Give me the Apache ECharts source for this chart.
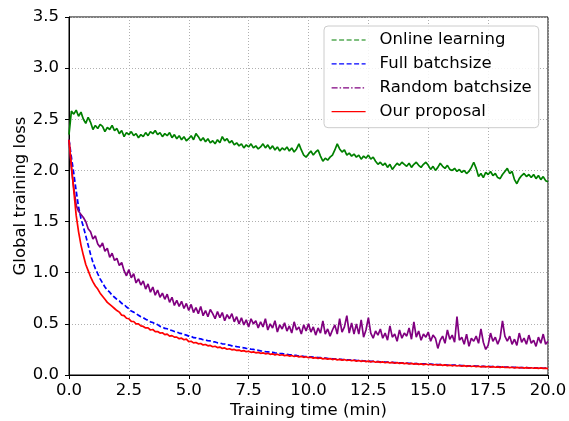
<!DOCTYPE html>
<html><head><meta charset="utf-8">
<script src="https://cdn.jsdelivr.net/npm/echarts@6/dist/echarts.min.js"></script>
<style>html,body{margin:0;padding:0;background:#fff}#c{width:569px;height:421px}</style>
</head><body><div id="c"></div>
<script>
const seriesNames = ['Online learning', 'Full batchsize', 'Random batchsize', 'Our proposal'];
const xTicks = [0, 2.5, 5, 7.5, 10, 12.5, 15, 17.5, 20];
const yTicks = [0, 0.5, 1, 1.5, 2, 2.5, 3, 3.5];
// sampling grid: every 0.1 min from 0 to 20
const times = Array.from({length: 201}, (_, i) => Math.round(i) / 10);

const onlineLoss = [
2.35,2.58,2.55,2.59,2.53,2.57,2.50,2.46,2.52,2.47,
2.40,2.44,2.41,2.45,2.43,2.38,2.42,2.40,2.44,2.39,
2.41,2.36,2.39,2.33,2.37,2.35,2.38,2.34,2.36,2.32,
2.35,2.33,2.37,2.34,2.38,2.36,2.39,2.35,2.37,2.33,
2.36,2.34,2.37,2.32,2.35,2.31,2.34,2.30,2.33,2.29,
2.31,2.34,2.30,2.36,2.33,2.29,2.32,2.28,2.31,2.27,
2.29,2.26,2.30,2.27,2.33,2.29,2.31,2.27,2.29,2.25,
2.27,2.24,2.26,2.22,2.25,2.23,2.26,2.22,2.24,2.21,
2.23,2.26,2.22,2.25,2.21,2.24,2.20,2.23,2.19,2.22,
2.20,2.23,2.19,2.22,2.18,2.21,2.26,2.20,2.15,2.13,
2.16,2.19,2.15,2.18,2.20,2.14,2.09,2.12,2.10,2.13,
2.15,2.20,2.26,2.21,2.18,2.20,2.15,2.17,2.14,2.16,
2.13,2.15,2.11,2.14,2.12,2.15,2.11,2.13,2.09,2.06,
2.08,2.05,2.07,2.03,2.06,2.01,2.04,2.07,2.05,2.08,
2.06,2.04,2.07,2.03,2.06,2.08,2.05,2.03,2.06,2.08,
2.05,2.01,2.04,2.00,2.03,2.07,2.04,2.02,2.05,2.01,
2.00,2.02,1.99,2.01,1.98,2.00,1.97,1.99,2.03,2.08,
2.02,1.94,1.97,1.93,1.98,1.96,1.99,1.95,1.97,1.93,
1.92,1.96,1.99,2.02,1.97,1.99,1.91,1.87,1.92,1.95,
1.97,1.94,1.96,1.93,1.96,1.92,1.95,1.91,1.94,1.90,
1.89];

const fullLoss = [
2.30,2.13,1.97,1.80,1.64,1.53,1.45,1.36,1.27,1.18,
1.10,1.04,0.99,0.94,0.90,0.86,0.83,0.81,0.78,0.76,
0.74,0.725,0.70,0.69,0.665,0.65,0.625,0.615,0.60,0.585,
0.57,0.56,0.545,0.535,0.52,0.513,0.50,0.493,0.475,0.47,
0.455,0.452,0.44,0.435,0.425,0.42,0.41,0.405,0.395,0.39,
0.38,0.378,0.365,0.363,0.355,0.353,0.345,0.343,0.335,0.333,
0.325,0.323,0.315,0.313,0.305,0.303,0.295,0.293,0.285,0.283,
0.277,0.274,0.268,0.266,0.26,0.258,0.252,0.25,0.244,0.242,
0.236,0.234,0.228,0.227,0.222,0.221,0.216,0.215,0.21,0.209,
0.204,0.203,0.198,0.197,0.192,0.191,0.186,0.186,0.182,0.181,
0.178,0.177,0.174,0.173,0.17,0.169,0.166,0.165,0.162,0.161,
0.158,0.157,0.155,0.154,0.152,0.151,0.149,0.148,0.146,0.145,
0.143,0.142,0.14,0.139,0.137,0.137,0.134,0.134,0.132,0.131,
0.129,0.129,0.126,0.126,0.124,0.124,0.121,0.121,0.119,0.119,
0.117,0.116,0.114,0.114,0.112,0.112,0.11,0.11,0.108,0.108,
0.106,0.106,0.104,0.104,0.102,0.102,0.1,0.1,0.098,0.098,
0.096,0.096,0.094,0.094,0.092,0.092,0.09,0.09,0.088,0.089,
0.087,0.087,0.085,0.085,0.083,0.084,0.082,0.082,0.08,0.081,
0.079,0.079,0.077,0.078,0.076,0.076,0.074,0.075,0.073,0.073,
0.072,0.072,0.07,0.071,0.069,0.069,0.068,0.068,0.066,0.067,
0.065];

const randomLoss = [
2.30,2.02,1.83,1.66,1.60,1.57,1.54,1.50,1.43,1.40,
1.33,1.36,1.28,1.25,1.29,1.21,1.24,1.15,1.19,1.12,
1.14,1.07,1.10,1.02,0.97,1.03,0.95,0.99,0.90,0.94,
0.88,0.92,0.84,0.89,0.81,0.86,0.78,0.83,0.76,0.80,
0.74,0.79,0.71,0.76,0.68,0.73,0.67,0.72,0.65,0.70,
0.63,0.69,0.61,0.66,0.60,0.67,0.58,0.63,0.57,0.64,
0.60,0.55,0.62,0.56,0.61,0.53,0.59,0.55,0.60,0.52,
0.57,0.50,0.56,0.49,0.54,0.47,0.55,0.50,0.53,0.46,
0.52,0.47,0.55,0.44,0.50,0.46,0.53,0.42,0.49,0.45,
0.51,0.43,0.48,0.41,0.52,0.44,0.47,0.40,0.49,0.43,
0.50,0.42,0.47,0.39,0.46,0.41,0.53,0.40,0.45,0.38,
0.44,0.49,0.40,0.55,0.42,0.47,0.58,0.41,0.51,0.40,
0.50,0.40,0.54,0.37,0.44,0.56,0.41,0.36,0.43,0.39,
0.45,0.36,0.41,0.34,0.48,0.37,0.40,0.33,0.44,0.36,
0.41,0.38,0.46,0.35,0.52,0.37,0.43,0.34,0.40,0.37,
0.42,0.33,0.39,0.36,0.26,0.34,0.38,0.31,0.44,0.35,
0.39,0.32,0.57,0.34,0.37,0.30,0.40,0.28,0.36,0.33,
0.38,0.31,0.45,0.32,0.25,0.29,0.41,0.33,0.37,0.30,
0.36,0.53,0.38,0.33,0.38,0.30,0.35,0.29,0.41,0.32,
0.36,0.30,0.39,0.31,0.34,0.28,0.37,0.31,0.40,0.30,
0.33];

const proposalLoss = [
2.30,2.05,1.80,1.56,1.40,1.27,1.17,1.08,1.02,0.96,
0.91,0.87,0.84,0.80,0.77,0.74,0.71,0.69,0.67,0.65,
0.63,0.615,0.585,0.58,0.555,0.55,0.525,0.523,0.50,0.50,
0.48,0.475,0.46,0.46,0.44,0.445,0.425,0.425,0.41,0.413,
0.395,0.40,0.38,0.385,0.37,0.37,0.355,0.36,0.345,0.35,
0.327,0.33,0.314,0.318,0.305,0.308,0.294,0.298,0.285,0.289,
0.276,0.281,0.268,0.273,0.26,0.265,0.252,0.257,0.246,0.25,
0.24,0.244,0.233,0.238,0.228,0.232,0.222,0.226,0.217,0.221,
0.212,0.216,0.207,0.212,0.202,0.207,0.197,0.203,0.193,0.198,
0.189,0.194,0.185,0.19,0.181,0.186,0.177,0.182,0.173,0.178,
0.169,0.174,0.165,0.17,0.161,0.167,0.158,0.163,0.155,0.16,
0.151,0.157,0.148,0.153,0.145,0.151,0.142,0.147,0.139,0.145,
0.136,0.142,0.133,0.139,0.131,0.136,0.128,0.134,0.125,0.131,
0.123,0.128,0.12,0.126,0.118,0.123,0.115,0.121,0.113,0.118,
0.111,0.116,0.108,0.114,0.106,0.111,0.104,0.109,0.102,0.107,
0.1,0.105,0.098,0.103,0.096,0.101,0.094,0.099,0.092,0.097,
0.09,0.095,0.088,0.093,0.087,0.091,0.085,0.09,0.083,0.088,
0.082,0.086,0.08,0.085,0.079,0.083,0.077,0.082,0.076,0.08,
0.074,0.079,0.073,0.077,0.072,0.076,0.07,0.075,0.069,0.073,
0.068,0.072,0.067,0.071,0.066,0.07,0.065,0.069,0.064,0.068,
0.063];

const colors = ['#008000', '#0000ff', '#800080', '#ff0000'];
const legendDash = [[5, 2.5], [5, 2.5], [6, 2, 1.5, 2], 'solid'];
const plotDash = ['solid', [5, 2.5], 'solid', 'solid'];
const allLoss = [onlineLoss, fullLoss, randomLoss, proposalLoss];

const pair = arr => arr.map((v, i) => [times[i], v]);
const font = 'DejaVu Sans';
const fs = 16.5;

const chart = echarts.init(document.getElementById('c'), null, {renderer: 'canvas'});
chart.setOption({
  animation: false,
  backgroundColor: '#fff',
  grid: {left: 69, right: 21, top: 17, bottom: 46, containLabel: false, outerBoundsMode: 'none', show: true, borderColor: '#000', borderWidth: 1, backgroundColor: 'transparent'},
  xAxis: {
    type: 'value', min: 0, max: 20, interval: 2.5,
    name: 'Training time (min)', nameLocation: 'middle', nameGap: 27, nameMoveOverlap: false,
    nameTextStyle: {fontFamily: font, fontSize: fs, color: '#000'},
    axisLine: {lineStyle: {color: '#000', width: 1}},
    axisTick: {length: 4, lineStyle: {color: '#000'}},
    axisLabel: {fontFamily: font, fontSize: fs, color: '#000', margin: 7, formatter: v => v.toFixed(1)},
    splitLine: {show: true, lineStyle: {color: '#b0b0b0', type: [1, 2], width: 1}}
  },
  yAxis: {
    type: 'value', min: 0, max: 3.5, interval: 0.5,
    name: 'Global training loss', nameLocation: 'middle', nameGap: 40, nameMoveOverlap: false,
    nameTextStyle: {fontFamily: font, fontSize: fs, color: '#000'},
    axisLine: {show: true, lineStyle: {color: '#000', width: 1}},
    axisTick: {show: true, length: 4, lineStyle: {color: '#000'}},
    axisLabel: {fontFamily: font, fontSize: fs, color: '#000', margin: 10, formatter: v => v.toFixed(1)},
    splitLine: {show: true, lineStyle: {color: '#b0b0b0', type: [1, 2], width: 1}}
  },
  legend: {
    orient: 'vertical', left: 324, top: 26,
    padding: [5.5, 7, 7.5, 7],
    itemWidth: 34, itemHeight: 17, itemGap: 6.9,
    backgroundColor: 'rgba(255,255,255,0.85)', borderColor: '#cccccc', borderWidth: 1, borderRadius: 4,
    textStyle: {fontFamily: font, fontSize: fs, color: '#000', lineHeight: 17, padding: [0, 0, 0, 9]},
    data: seriesNames.map((n, i) => ({name: n, itemStyle: {opacity: 0}, lineStyle: {type: legendDash[i], width: 1.2, color: colors[i], opacity: 1}}))
  },
  series: seriesNames.map((n, i) => ({
    name: n, type: 'line', data: pair(allLoss[i]),
    symbol: 'none', showSymbol: false, smooth: false,
    lineStyle: {color: colors[i], width: 1.7, type: plotDash[i]},
    itemStyle: {color: colors[i]},
    z: 2 + i
  }))
});
</script>
</body></html>
